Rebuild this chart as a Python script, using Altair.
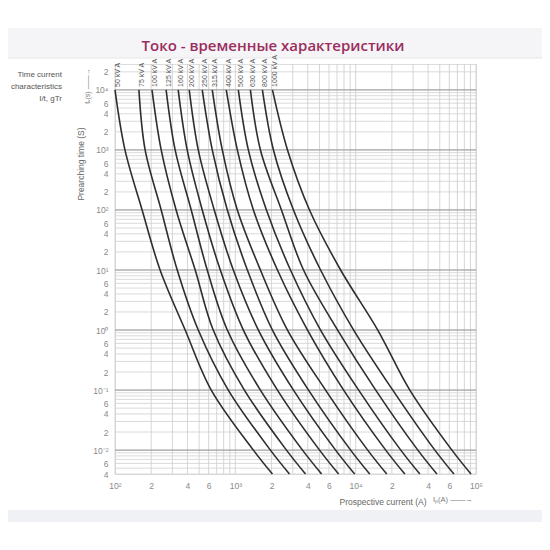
import altair as alt
import pandas as pd

# ---------------- data ----------------
ratings = ["50 kV A", "75 kV A", "100 kV A", "125 kV A", "160 kV A", "200 kV A",
           "250 kV A", "315 kV A", "400 kV A", "500 kV A", "630 kV A", "800 kV A", "1000 kV A"]

# pre-arching time points (s)
times = [1e4, 1e3, 1e2, 1e1, 1, 0.1, 0.01, 0.004]

# prospective current (A) of each curve at the times above
cur_50 = [100, 121, 168, 237, 383, 631, 1413, 2034]
cur_75 = [158, 178, 242, 329, 492, 874, 1957, 2818]
cur_100 = [203, 242, 322, 464, 655, 1189, 2661, 3831]
cur_125 = [266, 316, 430, 584, 858, 1616, 3617, 5210]
cur_160 = [335, 398, 531, 750, 1166, 2239, 5012, 7217]
cur_200 = [414, 492, 668, 962, 1555, 3042, 6813, 9810]
cur_250 = [531, 643, 858, 1259, 2034, 4058, 9085, 13080]
cur_315 = [643, 779, 1039, 1616, 2713, 5623, 12590, 18130]
cur_400 = [841, 1039, 1413, 2239, 3981, 7943, 17780, 25610]
cur_500 = [1059, 1283, 1813, 2872, 5110, 10590, 23710, 34150]
cur_630 = [1334, 1616, 2417, 3687, 7079, 14680, 32870, 47320]
cur_800 = [1679, 2073, 3042, 5110, 9624, 20340, 45530, 65540]
cur_1000 = [2034, 2713, 4135, 7499, 15260, 28180, 63100, 90850]

curves = [cur_50, cur_75, cur_100, cur_125, cur_160, cur_200, cur_250,
          cur_315, cur_400, cur_500, cur_630, cur_800, cur_1000]

x_ticks = [1e2, 2e2, 4e2, 6e2, 1e3, 2e3, 4e3, 6e3, 1e4, 2e4, 4e4, 6e4, 1e5]
y_ticks = [2e4, 1e4, 6e3, 4e3, 2e3, 1e3, 6e2, 4e2, 2e2, 1e2, 60, 40, 20, 10, 6, 4, 2, 1,
           0.6, 0.4, 0.2, 0.1, 0.06, 0.04, 0.02, 0.01, 0.006, 0.004]

X_DOMAIN = [100, 1e5]
Y_DOMAIN = [0.004, 27000]

title_text = "Токо - временные характеристики"

# ---------------- tables ----------------
rows = []
for name, cur in zip(ratings, curves):
    for k, (t, i) in enumerate(zip(times, cur)):
        rows.append({"rating": name, "order": k, "t": t, "I": i})
df = pd.DataFrame(rows)

lab_df = pd.DataFrame({"rating": ratings, "I": [c[0] for c in curves], "t": [times[0]] * len(ratings)})

x_grid = [m * 10 ** e for e in (2, 3, 4) for m in range(1, 10)] + [1e5]
y_grid = [m * 10.0 ** e for e in range(-3, 5) for m in range(1, 10)
          if Y_DOMAIN[0] * 0.999 <= m * 10.0 ** e <= Y_DOMAIN[1]]
y_major = [1e-2, 1e-1, 1, 10, 100, 1e3, 1e4]

FONT = "Liberation Sans, Arial, sans-serif"

xs = alt.Scale(type="log", domain=X_DOMAIN, nice=False)
ys = alt.Scale(type="log", domain=Y_DOMAIN, nice=False)

label_expr = ("abs(datum.value/pow(10, round(log(datum.value)/LN10)) - 1) < 0.01 ? "
              "'10' + ['⁻³','⁻²','⁻¹','⁰','¹','²','³','⁴','⁵'][round(log(datum.value)/LN10) + 3] : "
              "'' + round(datum.value/pow(10, floor(log(datum.value)/LN10 + 1e-9)))")

x_axis = alt.Axis(values=x_ticks, labelExpr=label_expr, grid=False, domain=False, ticks=False,
                  title=None, labelColor="#8a8a8a", labelFont=FONT, labelFontSize=8.5,
                  labelPadding=7, labelFlush=False, labelOverlap=False)
y_axis = alt.Axis(values=y_ticks, labelExpr=label_expr, grid=False, domain=False, ticks=False,
                  title=None, labelColor="#8a8a8a", labelFont=FONT, labelFontSize=8.5,
                  labelPadding=7, labelFlush=False, labelOverlap=False)

one = pd.DataFrame({"a": [0]})

# ---------------- decorations (page bands) ----------------
band = alt.Chart(one).mark_rect(color="#f5f5f7").encode(
    x=alt.value(-115), x2=alt.value(440), y=alt.value(-36), y2=alt.value(-6))
band_line = alt.Chart(one).mark_rule(color="#e6e6ea", strokeWidth=1).encode(
    x=alt.value(-115), x2=alt.value(440), y=alt.value(-6))
bottom_band = alt.Chart(one).mark_rect(color="#f0f1f5").encode(
    x=alt.value(-115), x2=alt.value(440), y=alt.value(446), y2=alt.value(458))

# ---------------- grid ----------------
vgrid = alt.Chart(pd.DataFrame({"v": x_grid})).mark_rule(color="#cccccc", strokeWidth=0.8).encode(
    x=alt.X("v:Q", scale=xs, axis=x_axis))
hgrid = alt.Chart(pd.DataFrame({"v": y_grid})).mark_rule(color="#d0d0d0", strokeWidth=0.8).encode(
    y=alt.Y("v:Q", scale=ys, axis=y_axis))
hmajor = alt.Chart(pd.DataFrame({"v": y_major})).mark_rule(color="#999999", strokeWidth=1).encode(
    y=alt.Y("v:Q", scale=ys, axis=y_axis))

# ---------------- curves ----------------
lines = alt.Chart(df).mark_line(color="#2e2e2e", strokeWidth=1.6, interpolate="catmull-rom").encode(
    x=alt.X("I:Q", scale=xs, axis=x_axis),
    y=alt.Y("t:Q", scale=ys, axis=y_axis),
    detail="rating:N",
    order="order:Q",
)

labels = alt.Chart(lab_df).mark_text(angle=270, align="left", baseline="middle", dx=3, dy=3,
                                     font=FONT, fontSize=7, color="#555555").encode(
    x=alt.X("I:Q", scale=xs, axis=x_axis),
    y=alt.Y("t:Q", scale=ys, axis=y_axis),
    text="rating:N",
)

# ---------------- texts ----------------
def txt(s, x, y, **kw):
    return alt.Chart(pd.DataFrame({"s": [s]})).mark_text(**kw).encode(
        x=alt.value(x), y=alt.value(y), text="s:N")

title = txt(title_text, 158, -18, font="Open Sans", fontSize=15, fontWeight=600,
            color="#9b2d5e", align="center", baseline="middle")
left1 = txt("Time current", -53, 11, font=FONT, fontSize=8, color="#555555",
            align="right", baseline="middle")
left2 = txt("characteristics", -53, 23, font=FONT, fontSize=8, color="#555555",
            align="right", baseline="middle")
left3 = txt("I/t, gTr", -53, 35, font=FONT, fontSize=8, color="#555555",
            align="right", baseline="middle")
ytitle = txt("Prearching time (S)", -34, 100, font=FONT, fontSize=8.5, color="#666666",
             angle=270, align="center", baseline="middle")
tv = txt("tᵥ(s) ——→", -27, 22, font=FONT, fontSize=7, color="#777777",
         angle=270, align="center", baseline="middle")
xtitle = txt("Prospective current (A)", 268, 438, font=FONT, fontSize=8.5, color="#666666",
             align="center", baseline="middle")
ip = txt("Iₚ(A) ——→", 318, 436, font=FONT, fontSize=7.5, color="#777777",
         align="left", baseline="middle")

chart = alt.layer(
    band, band_line, bottom_band,
    vgrid, hgrid, hmajor,
    lines, labels,
    title, left1, left2, left3, ytitle, tv, xtitle, ip,
).properties(
    width=361, height=410,
    autosize=alt.AutoSizeParams(type="none"),
    padding={"left": 107, "top": 56, "right": 66, "bottom": 68},
).configure_view(stroke=None).configure(background="white")

chart.save("out.html", embed_options={"renderer": "svg", "actions": False})
